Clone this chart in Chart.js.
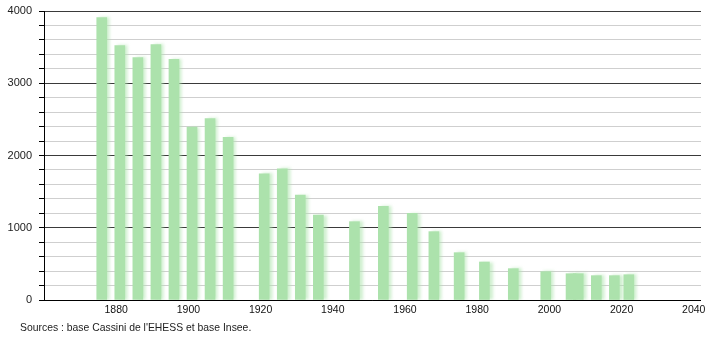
<!DOCTYPE html>
<html>
<head>
<meta charset="utf-8">
<script src="https://cdn.jsdelivr.net/npm/chart.js@4/dist/chart.umd.min.js"></script>
<style>
  html, body { margin: 0; padding: 0; background: #fff; }
  #wrap { position: relative; width: 710px; height: 340px; }
  #source { position: absolute; left: 20px; top: 322px; font: 10.4px "Liberation Sans", Arial, sans-serif; color: #222; white-space: nowrap; }
</style>
</head>
<body>
<div id="wrap">
  <canvas id="c"></canvas>
  <div id="source">Sources : base Cassini de l'EHESS et base Insee.</div>
</div>
<script>
const years = [1876,1881,1886,1891,1896,1901,1906,1911,1921,1926,1931,1936,1946,1954,1962,1968,1975,1982,1990,1999,2006,2008,2013,2018,2022];
const population = [3910,3520,3354,3534,3331,2395,2510,2250,1748,1817,1453,1176,1084,1295,1200,946,655,526,434,392,364,364,337,337,350];
const xTickYears = [1880,1900,1920,1940,1960,1980,2000,2020,2040];
const yMajorStep = 1000;
const yMinorStep = 200;

const points = years.map((yr, i) => ({ x: yr, y: population[i] }));

const barShadow = {
  id: 'barShadow',
  beforeDatasetsDraw(chart) {
    const ctx = chart.ctx;
    ctx.save();
    ctx.shadowColor = 'rgba(175,228,175,0.6)';
    ctx.shadowBlur = 3;
    ctx.shadowOffsetX = 3;
  },
  afterDatasetsDraw(chart) { chart.ctx.restore(); }
};

new Chart(document.getElementById('c'), {
  type: 'bar',
  data: {
    datasets: [{
      data: points,
      backgroundColor: 'rgb(172,226,172)',
      borderWidth: 0,
      barThickness: 10
    }]
  },
  plugins: [barShadow],
  options: {
    responsive: true,
    maintainAspectRatio: false,
    animation: false,
    layout: { padding: { top: 11, right: 9, bottom: 22, left: 0 } },
    plugins: { legend: { display: false }, tooltip: { enabled: false } },
    scales: {
      x: {
        type: 'linear',
        min: 1860,
        max: 2042,
        offset: false,
        grid: { display: true, offset: false, color: 'rgba(0,0,0,0)', lineWidth: 0, drawTicks: false },
        border: { display: true, color: '#000', width: 1 },
        afterBuildTicks(scale) { scale.ticks = xTickYears.map(v => ({ value: v })); },
        afterFit(scale) { scale.height = 18; scale.paddingLeft = 0; scale.paddingRight = 0; },
        ticks: {
          autoSkip: false,
          maxRotation: 0,
          padding: 4,
          color: '#111',
          font: { family: '"Liberation Sans", Arial, sans-serif', size: 10.5 },
          callback: v => String(v)
        }
      },
      y: {
        min: 0,
        max: 4000,
        grid: {
          color: c => (c.tick && c.tick.value % yMajorStep === 0) ? '#3a3a3a' : '#cfcfcf',
          tickColor: '#000',
          tickLength: 5,
          lineWidth: 1
        },
        border: { display: true, color: '#000', width: 1 },
        afterFit(scale) { scale.width = 44; scale.paddingTop = 0; scale.paddingBottom = 0; },
        ticks: {
          stepSize: yMinorStep,
          autoSkip: false,
          padding: 7,
          color: '#222',
          font: { family: '"Liberation Sans", Arial, sans-serif', size: 11 },
          callback: v => (v % yMajorStep === 0 ? String(v) : '')
        }
      }
    }
  }
});
</script>
</body>
</html>
